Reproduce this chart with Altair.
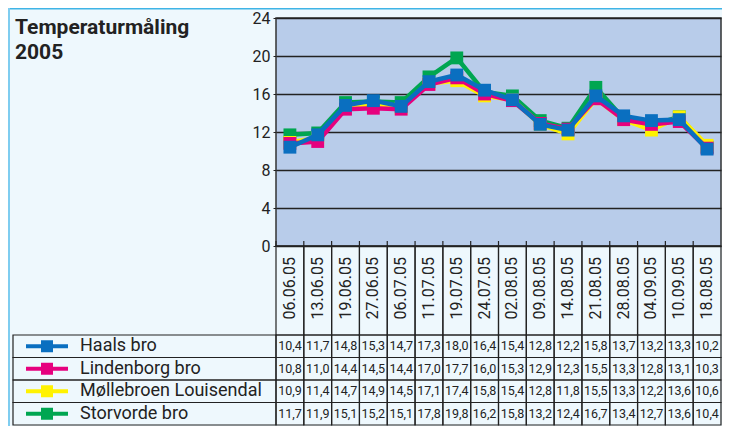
import altair as alt
import pandas as pd

# ---------------- data ----------------
dates = ["06.06.05", "13.06.05", "19.06.05", "27.06.05", "06.07.05", "11.07.05",
         "19.07.05", "24.07.05", "02.08.05", "09.08.05", "14.08.05", "21.08.05",
         "28.08.05", "04.09.05", "10.09.05", "18.08.05"]
series = ["Haals bro", "Lindenborg bro", "Møllebroen Louisendal", "Storvorde bro"]
colors = ["#0a6fc0", "#e6007e", "#fff200", "#00a651"]
haals = [10.4, 11.7, 14.8, 15.3, 14.7, 17.3, 18.0, 16.4, 15.4, 12.8, 12.2, 15.8, 13.7, 13.2, 13.3, 10.2]
lindenborg = [10.8, 11.0, 14.4, 14.5, 14.4, 17.0, 17.7, 16.0, 15.3, 12.9, 12.3, 15.5, 13.3, 12.8, 13.1, 10.3]
mollebroen = [10.9, 11.4, 14.7, 14.9, 14.5, 17.1, 17.4, 15.8, 15.4, 12.8, 11.8, 15.5, 13.3, 12.2, 13.6, 10.6]
storvorde = [11.7, 11.9, 15.1, 15.2, 15.1, 17.8, 19.8, 16.2, 15.8, 13.2, 12.4, 16.7, 13.4, 12.7, 13.6, 10.4]
y_ticks = [0, 4, 8, 12, 16, 20, 24]
title_lines = ["Temperaturmåling", "2005"]

values = [haals, lindenborg, mollebroen, storvorde]
rows = []
for s, vals in zip(series, values):
    for d, v in zip(dates, vals):
        rows.append({"date": d, "series": s, "value": v,
                     "label": f"{v:.1f}".replace(".", ",")})
df = pd.DataFrame(rows)
df_dates = pd.DataFrame({"date": dates})
df_series = pd.DataFrame({"series": series})

# ---------------- layout ----------------
PL, PT, W, H, PR, PB = 268, 10, 445, 228, 1, 180
TABLE_TOP, TABLE_BOT = 317, 407
FONT = "Roboto"
INK = "#222222"
BG = "#eef8fd"
PLOT_FILL = "#b8ccea"

xscale = alt.Scale(type="band", domain=dates, paddingInner=0, paddingOuter=0)
cscale = alt.Scale(domain=series, range=colors)
yscale = alt.Scale(domain=[0, 24], nice=False, zero=True)
tscale = alt.Scale(type="band", domain=series, range=[TABLE_TOP, TABLE_BOT],
                   paddingInner=0, paddingOuter=0)

yaxis = alt.Axis(values=y_ticks, grid=True, gridColor=INK, gridWidth=1.3,
                 domain=False, ticks=True, tickColor=INK, tickSize=3,
                 labelPadding=3, labelFont=FONT, labelFontSize=16,
                 labelColor=INK, title=None)

# ---------------- plot ----------------
plot_layers = []
for s in reversed(series):
    src = alt.Chart(df).transform_filter(alt.datum.series == s)
    enc = dict(
        x=alt.X("date:N", scale=xscale, axis=None, bandPosition=0.5),
        y=alt.Y("value:Q", scale=yscale, axis=yaxis),
        color=alt.Color("series:N", scale=cscale, legend=None),
    )
    plot_layers.append(src.mark_line(strokeWidth=4.5).encode(**enc))
    plot_layers.append(src.mark_square(size=165, opacity=1).encode(**enc))
plot_group = alt.layer(*plot_layers)

# ---------------- date header ----------------
header_cells = alt.Chart(df_dates).mark_rect(fillOpacity=0, stroke=INK, strokeWidth=1.2).encode(
    x=alt.X("date:N", scale=xscale, axis=None),
    y=alt.value(H), y2=alt.value(TABLE_TOP),
)
stubs = alt.Chart(df_dates).mark_rule(color=INK, strokeWidth=1.2).encode(
    x=alt.X("date:N", scale=xscale, axis=None, bandPosition=0),
    y=alt.value(H - 5), y2=alt.value(H),
)
date_labels = alt.Chart(df_dates).mark_text(
    angle=270, align="right", baseline="middle", font=FONT, fontSize=16, color=INK
).encode(
    x=alt.X("date:N", scale=xscale, axis=None, bandPosition=0.5),
    y=alt.value(H + 11),
    text="date:N",
)

# ---------------- table ----------------
cells = alt.Chart(df).mark_rect(fillOpacity=0, stroke=INK, strokeWidth=1.2).encode(
    x=alt.X("date:N", scale=xscale, axis=None),
    y=alt.Y("series:N", scale=tscale, axis=None),
)
cell_text = alt.Chart(df).mark_text(font=FONT, fontSize=12.5, color=INK, baseline="middle").encode(
    x=alt.X("date:N", scale=xscale, axis=None, bandPosition=0.5),
    y=alt.Y("series:N", scale=tscale, axis=None, bandPosition=0.5),
    text="label:N",
)
legend_cells = alt.Chart(df_series).mark_rect(fillOpacity=0, stroke=INK, strokeWidth=1.2).encode(
    x=alt.value(-263), x2=alt.value(0),
    y=alt.Y("series:N", scale=tscale, axis=None),
)
legend_lines = alt.Chart(df_series).mark_rule(strokeWidth=4).encode(
    x=alt.value(-250), x2=alt.value(-208),
    y=alt.Y("series:N", scale=tscale, axis=None, bandPosition=0.5),
    color=alt.Color("series:N", scale=cscale, legend=None),
)
legend_sq = alt.Chart(df_series).mark_square(size=144, opacity=1).encode(
    x=alt.value(-229),
    y=alt.Y("series:N", scale=tscale, axis=None, bandPosition=0.5),
    color=alt.Color("series:N", scale=cscale, legend=None),
)
legend_text = alt.Chart(df_series).mark_text(
    align="left", baseline="middle", font=FONT, fontSize=18, color=INK
).encode(
    x=alt.value(-196),
    y=alt.Y("series:N", scale=tscale, axis=None, bandPosition=0.5),
    text="series:N",
)
table_group = alt.layer(cells, cell_text, legend_cells, legend_lines, legend_sq, legend_text)

# ---------------- title & frame ----------------
title_marks = []
for i, line in enumerate(title_lines):
    title_marks.append(
        alt.Chart(pd.DataFrame({"t": [line]})).mark_text(
            align="left", baseline="alphabetic",
            font=FONT, fontSize=21, fontWeight="bold", color=INK
        ).encode(x=alt.value(-261), y=alt.value(16 + 24.5 * i), text="t:N")
    )

one = pd.DataFrame({"k": [0]})
frame_top = alt.Chart(one).mark_rule(color="#3fb4e6", strokeWidth=1.5).encode(
    x=alt.value(-PL), x2=alt.value(W + PR), y=alt.value(-PT + 0.75))
frame_left = alt.Chart(one).mark_rule(color="#7fcdf0", strokeWidth=2).encode(
    x=alt.value(-PL + 1), y=alt.value(-PT), y2=alt.value(H + PB))

chart = alt.layer(
    plot_group, header_cells, stubs, date_labels, table_group, *title_marks,
    frame_top, frame_left
).resolve_scale(y="independent").properties(
    width=W, height=H,
    padding={"left": PL, "top": PT, "right": PR, "bottom": PB},
    autosize=alt.AutoSizeParams(type="none"),
    background=BG,
).configure_view(
    fill=PLOT_FILL, stroke="#333333", strokeWidth=1.5
)

chart.save("out.html", embed_options={"renderer": "svg", "actions": False})
